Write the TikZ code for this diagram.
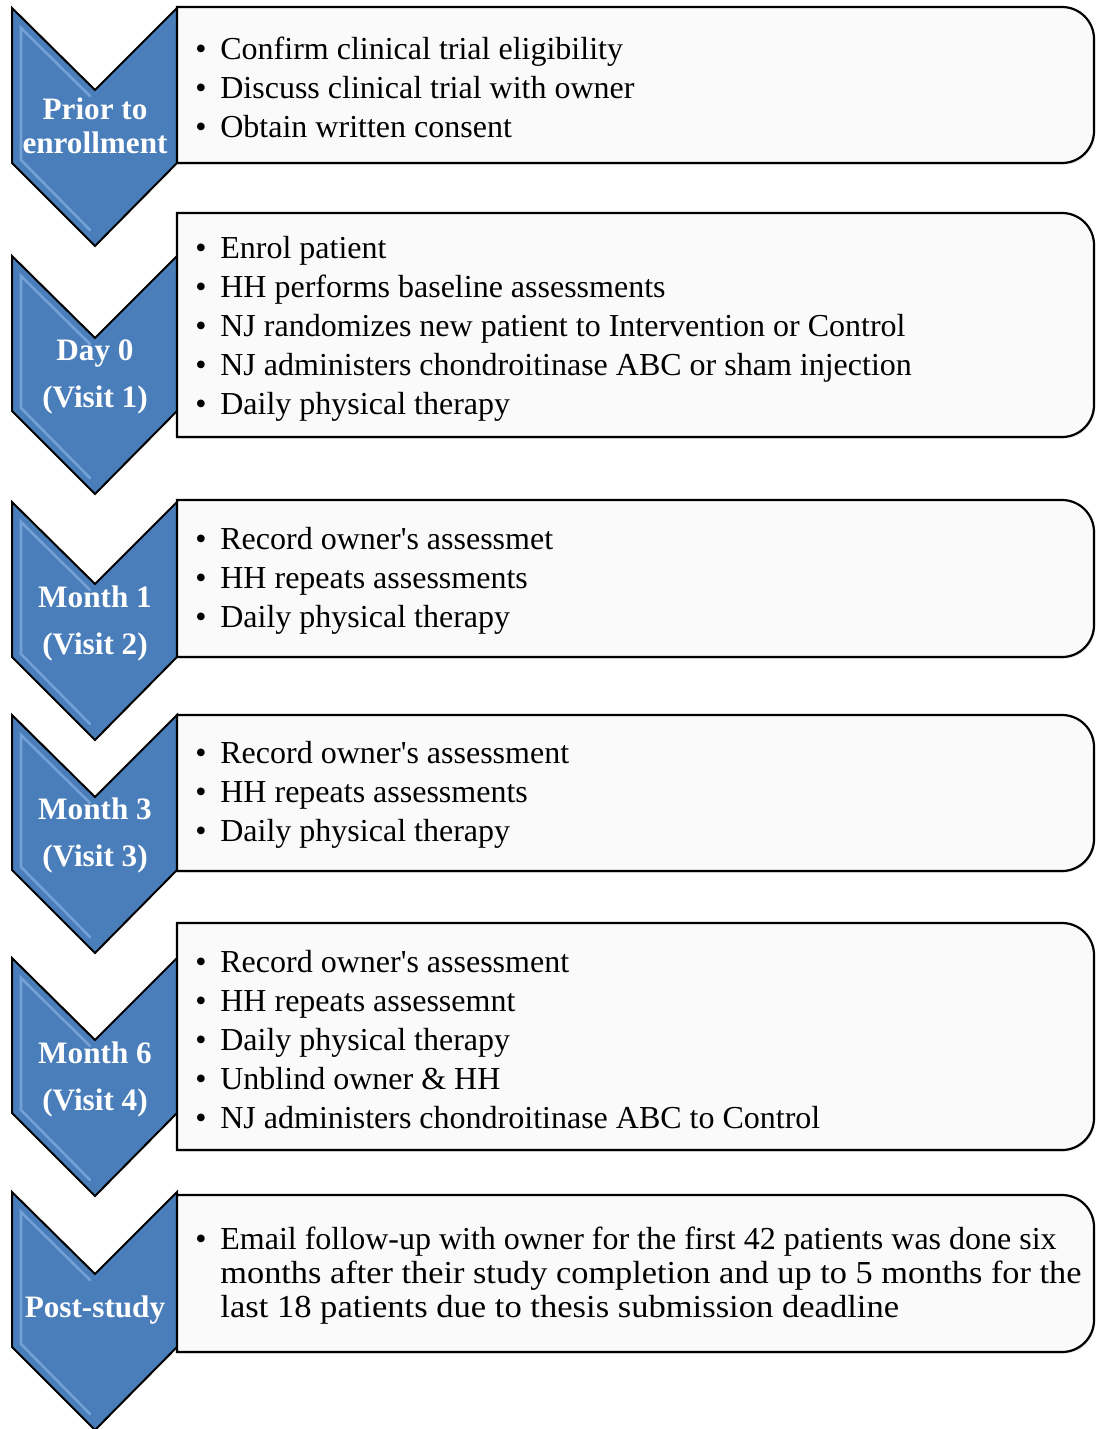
\documentclass[tikz,border=0pt]{standalone}
\usepackage{fontspec}
\setmainfont{Liberation Serif}
\usepackage{xcolor}
\usepackage{graphicx}
\usepackage{tikz}
\usetikzlibrary{shadows}

\definecolor{chevblue}{RGB}{74,126,187}
\definecolor{chevlight}{RGB}{150,190,235}
\definecolor{boxfill}{RGB}{250,250,250}

\newcommand{\bul}{\makebox[12.5pt][l]{\textbullet}}
\newcommand{\apos}{\textquotesingle}

\begin{document}
\begin{tikzpicture}[x=0.5pt,y=-0.5pt,
    chev/.style={fill=chevblue,draw=black,line width=1pt},
    bevel/.style={draw=chevlight,line width=1.3pt,opacity=0.55,line cap=round},
    stagebox/.style={fill=boxfill,draw=black,line width=1.1pt,
        drop shadow={shadow xshift=0.6pt,shadow yshift=-0.8pt,opacity=0.25}},
    steplabel/.style={text=white,align=center,inner sep=0pt,
        font=\bfseries\fontsize{15.6}{23.5}\selectfont},
    items/.style={anchor=west,inner sep=0pt,align=left,
        font=\fontsize{16}{19.5}\selectfont}]
\useasboundingbox (0,0) rectangle (1096,1429);

\foreach \t in {8,256,502,715,958,1192}{
    \draw[chev] (12,\t) -- (95,\t+82) -- (177,\t) -- (177,\t+155) -- (95,\t+238) -- (12,\t+155) -- cycle;
    \draw[bevel] (90,\t+88) -- (21,\t+20) -- (21,\t+152) -- (90,\t+222);
}

\draw[stagebox] (177,163) -- (177,7) [rounded corners=16] -- (1094,7) -- (1094,163) [sharp corners] -- cycle;
\draw[stagebox] (177,437) -- (177,213) [rounded corners=16] -- (1094,213) -- (1094,437) [sharp corners] -- cycle;
\draw[stagebox] (177,657) -- (177,500) [rounded corners=16] -- (1094,500) -- (1094,657) [sharp corners] -- cycle;
\draw[stagebox] (177,871) -- (177,715) [rounded corners=16] -- (1094,715) -- (1094,871) [sharp corners] -- cycle;
\draw[stagebox] (177,1150) -- (177,923) [rounded corners=16] -- (1094,923) -- (1094,1150) [sharp corners] -- cycle;
\draw[stagebox] (177,1352) -- (177,1195) [rounded corners=16] -- (1094,1195) -- (1094,1352) [sharp corners] -- cycle;

\node[steplabel,font=\bfseries\fontsize{15.6}{17}\selectfont] (prior) at (95,126) {Prior to\\enrollment};
\node[steplabel] (day0) at (95,377) {Day 0\\(Visit 1)};
\node[steplabel] (month1) at (95,623) {Month 1\\(Visit 2)};
\node[steplabel] (month3) at (95,835) {Month 3\\(Visit 3)};
\node[steplabel] (month6) at (95,1079) {Month 6\\(Visit 4)};
\node[steplabel] (post) at (95,1310) {Post-study};

\node[items] (priortasks) at (195,87) {\bul Confirm clinical trial eligibility\\
    \bul Discuss clinical trial with owner\\
    \bul Obtain written consent};
\node[items] (day0tasks) at (195,329) {\bul Enrol patient\\
    \bul HH performs baseline assessments\\
    \bul NJ randomizes new patient to Intervention or Control\\
    \bul NJ administers chondroitinase ABC or sham injection\\
    \bul Daily physical therapy};
\node[items] (month1tasks) at (195,581) {\bul Record owner\apos s assessmet\\
    \bul HH repeats assessments\\
    \bul Daily physical therapy};
\node[items] (month3tasks) at (195,795) {\bul Record owner\apos s assessment\\
    \bul HH repeats assessments\\
    \bul Daily physical therapy};
\node[items] (month6tasks) at (195,1040) {\bul Record owner\apos s assessment\\
    \bul HH repeats assessemnt\\
    \bul Daily physical therapy\\
    \bul Unblind owner \& HH\\
    \bul NJ administers chondroitinase ABC to Control};
\node[items,font=\fontsize{16}{17}\selectfont] (posttasks) at (195,1276) {\bul Email follow-up with owner for the first 42 patients was done six\\
    \hspace*{12.5pt}\scalebox{1.073}[1]{months after their study completion and up to 5 months for the}\\
    \hspace*{12.5pt}\scalebox{1.08}[1]{last 18 patients due to thesis submission deadline}};
\end{tikzpicture}
\end{document}
